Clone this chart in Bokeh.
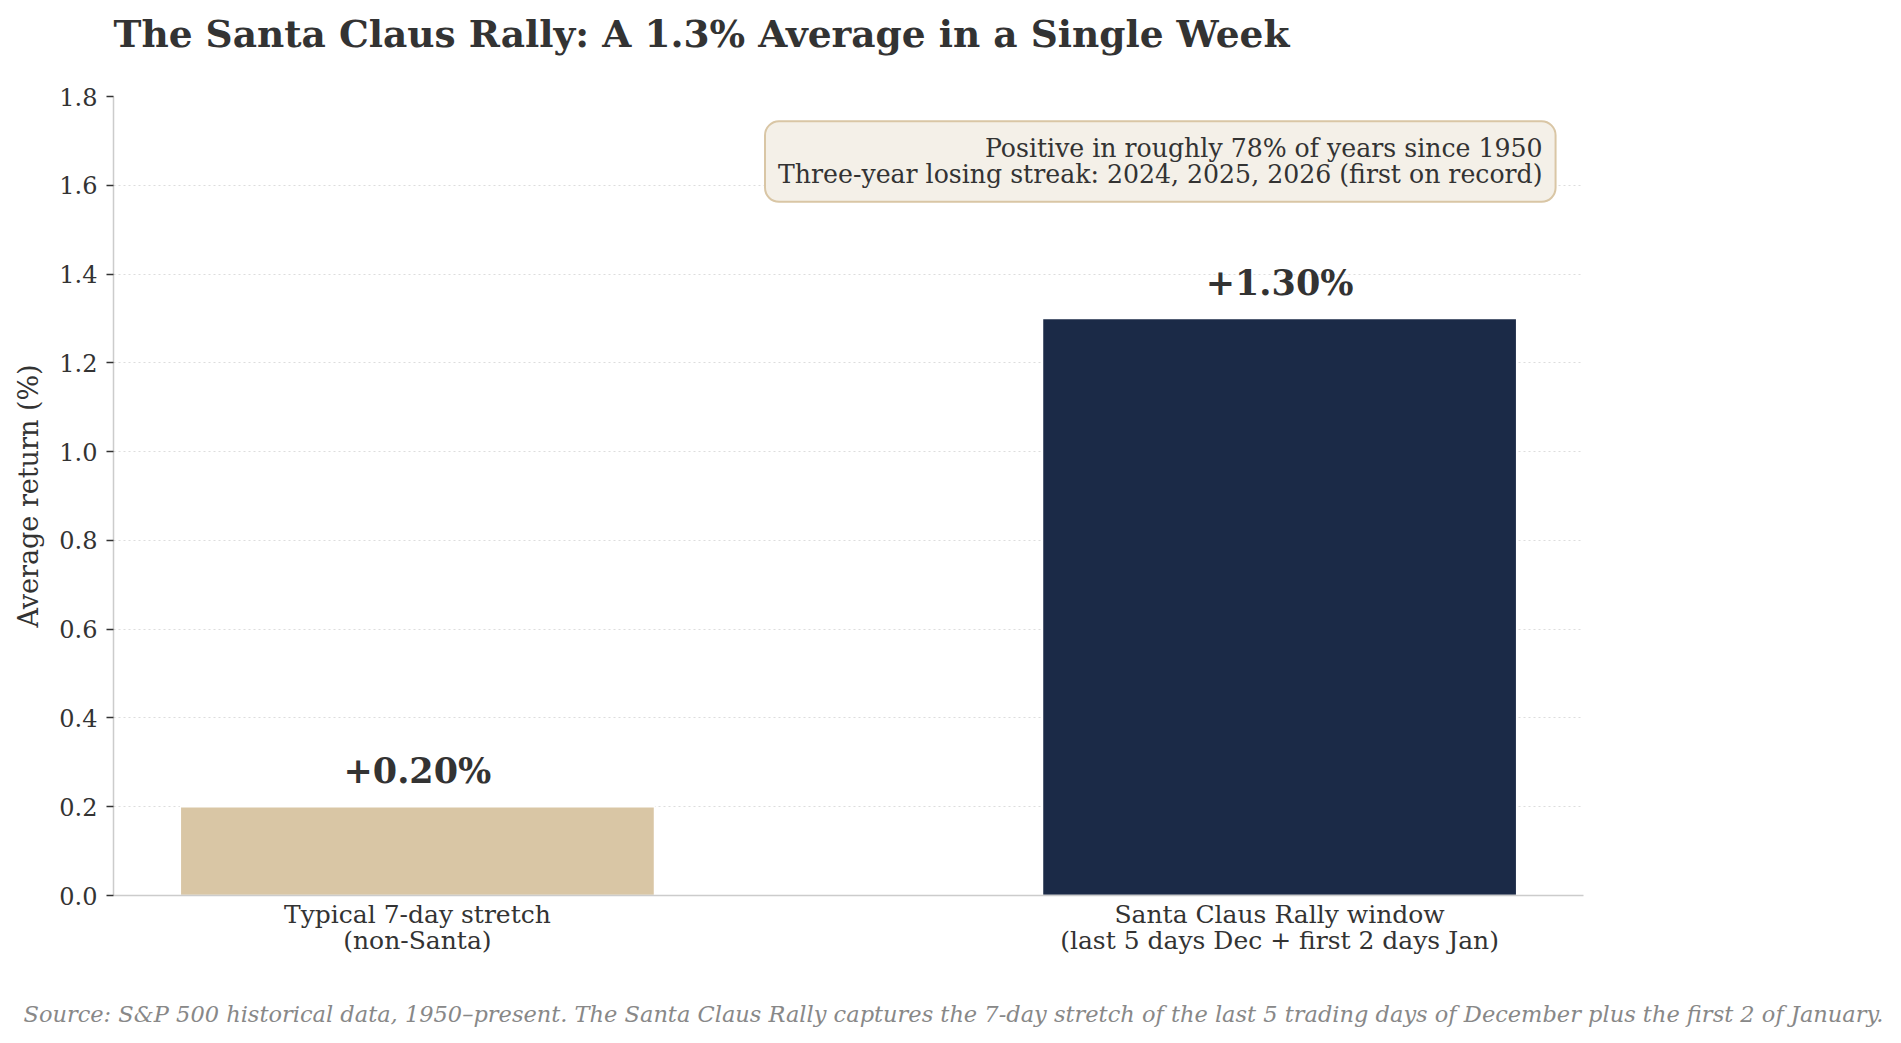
from bokeh.plotting import figure
from bokeh.models import Range1d, FixedTicker, ColumnDataSource, Label, Title, PrintfTickFormatter
from bokeh.embed import file_html
from bokeh.resources import INLINE
from bokeh.core.properties import value

# ---------------- data ----------------
categories = [
    "Typical 7-day stretch\n(non-Santa)",
    "Santa Claus Rally window\n(last 5 days Dec + first 2 days Jan)",
]
returns = [0.20, 1.30]
bar_colors = ["#d9c6a5", "#1b2a47"]
y_ticks = [0.0, 0.2, 0.4, 0.6, 0.8, 1.0, 1.2, 1.4, 1.6, 1.8]
value_labels = [f"+{v:.2f}%" for v in returns]

title_text = "The Santa Claus Rally: A 1.3% Average in a Single Week"
note_lines = [
    "Positive in roughly 78% of years since 1950",
    "Three-year losing streak: 2024, 2025, 2026 (first on record)",
]
source_text = ("Source: S&P 500 historical data, 1950\u2013present. The Santa Claus Rally captures "
               "the 7-day stretch of the last 5 trading days of December plus the first 2 of January.")
y_label = "Average return (%)"

# ---------------- style / layout ----------------
FONT = "DejaVu Serif"
TXT = "#333333"
W, H = 1885, 1035
B_LEFT, B_RIGHT, B_TOP, B_BOTTOM = 113, 302, 96, 140
bar_width = 0.55
x_lo, x_hi = -0.3525, 1.3525
y_lo, y_hi = 0.0, 1.8

xs = list(range(len(categories)))
src = ColumnDataSource(dict(x=xs, top=returns, color=bar_colors, label=value_labels))

p = figure(width=W, height=H, output_backend="svg", toolbar_location=None,
           x_range=Range1d(x_lo, x_hi), y_range=Range1d(y_lo, y_hi),
           min_border_left=B_LEFT, min_border_right=B_RIGHT,
           min_border_top=B_TOP, min_border_bottom=B_BOTTOM)
p.outline_line_color = None
p.background_fill_color = "white"
p.border_fill_color = "white"

# grid
p.xgrid.grid_line_color = None
p.ygrid.ticker = FixedTicker(ticks=y_ticks)
p.ygrid.grid_line_color = "#dddddd"
p.ygrid.grid_line_dash = "2 3"
p.ygrid.grid_line_width = 1

# axes
p.yaxis.ticker = FixedTicker(ticks=y_ticks)
p.yaxis.formatter = PrintfTickFormatter(format="%.1f")
p.yaxis.axis_label = y_label
p.yaxis.axis_label_text_font = FONT
p.yaxis.axis_label_text_font_size = "27px"
p.yaxis.axis_label_text_font_style = "normal"
p.yaxis.axis_label_text_color = TXT
p.yaxis.axis_label_standoff = 12
p.yaxis.major_label_text_font = FONT
p.yaxis.major_label_text_font_size = "24px"
p.yaxis.major_label_text_color = TXT
p.yaxis.major_label_standoff = 9
p.yaxis.axis_line_color = "#cccccc"
p.yaxis.axis_line_width = 1.5
p.yaxis.major_tick_line_color = TXT
p.yaxis.major_tick_line_width = 1.5
p.yaxis.major_tick_out = 7
p.yaxis.major_tick_in = 0
p.yaxis.minor_tick_line_color = None

p.xaxis.ticker = FixedTicker(ticks=xs)
p.xaxis.major_label_overrides = {i: c for i, c in zip(xs, categories)}
p.xaxis.major_label_text_font = FONT
p.xaxis.major_label_text_font_size = "25px"
p.xaxis.major_label_text_color = TXT
p.xaxis.major_label_text_line_height = 0.93
p.xaxis.major_label_standoff = -2
p.xaxis.axis_line_color = "#cccccc"
p.xaxis.axis_line_width = 1.5
p.xaxis.major_tick_line_color = None
p.xaxis.minor_tick_line_color = None

# bars
p.vbar(x="x", top="top", bottom=0, width=bar_width, fill_color="color",
       line_color="white", line_width=1.5, source=src)

# value labels
p.text(x="x", y="top", text="label", source=src, text_align="center",
       text_baseline="alphabetic", y_offset=-36, text_font=value(FONT),
       text_font_size="35px", text_font_style="bold", text_color=TXT)

# annotation box
note = Label(x=x_hi - 0.019 * (x_hi - x_lo), y=y_lo + 0.969 * (y_hi - y_lo),
             text="\n".join(note_lines), text_align="right", text_baseline="top",
             text_font=FONT, text_font_size="25.2px", text_color=TXT,
             text_line_height=0.88,
             background_fill_color="#f4f0e8", border_line_color="#d9c6a5",
             border_line_width=2, padding=13, border_radius=14)
p.add_layout(note)

# title panels (first added sits nearest the plot frame)
p.add_layout(Title(text=" ", text_font_size="1px", standoff=38), "above")
p.add_layout(Title(text=title_text, text_font=FONT, text_font_size="37.5px",
                   text_font_style="bold", text_color=TXT, align="left",
                   offset=0, standoff=0), "above")

# source note below the x axis
p.add_layout(Title(text=" ", text_font_size="1px", standoff=37), "below")
p.add_layout(Title(text=source_text, text_font=FONT, text_font_size="22.5px",
                   text_font_style="italic", text_color="#888888", align="left",
                   offset=-90, standoff=0), "below")

open("out.html", "w").write(file_html(p, INLINE))
